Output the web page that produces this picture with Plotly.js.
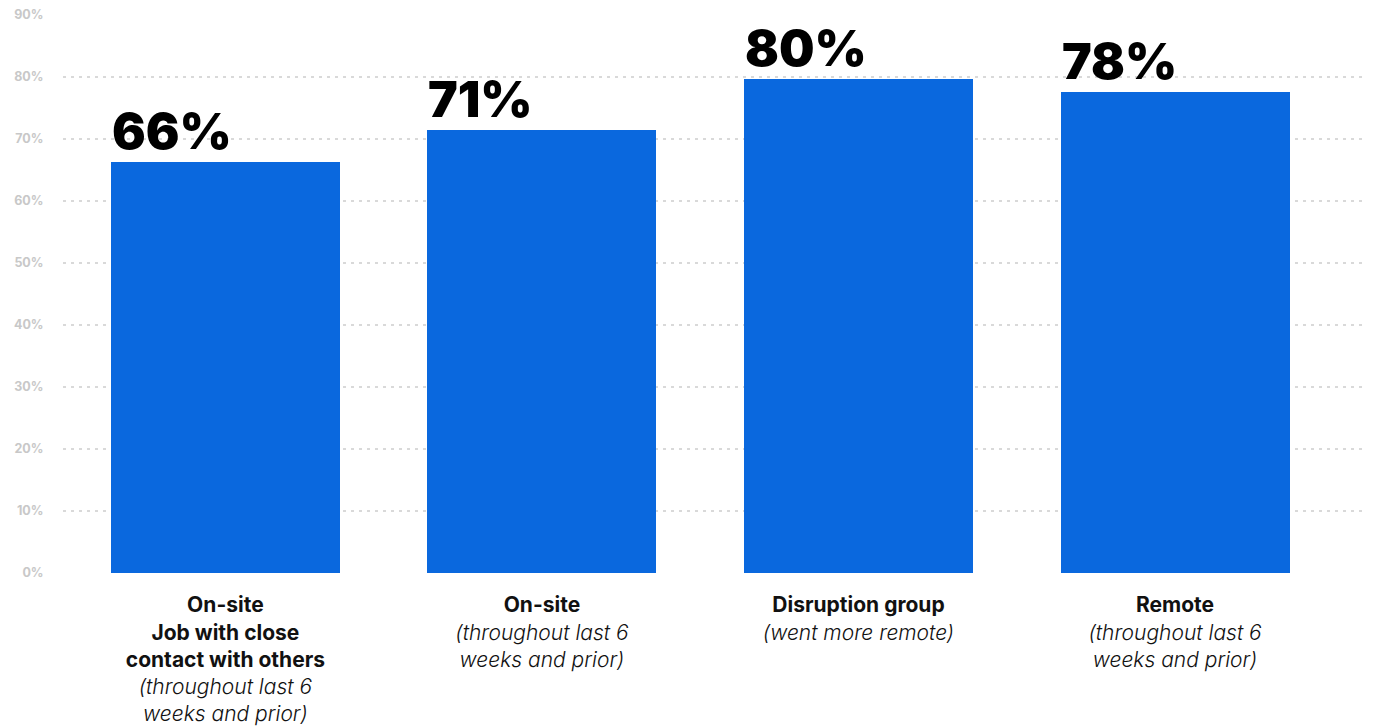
<!DOCTYPE html>
<html>
<head>
<meta charset="utf-8">
<script src="https://cdn.plot.ly/plotly-3.0.1.min.js"></script>
<style>html,body{margin:0;padding:0;background:#fff;}#chart{width:1378px;height:727px;}</style>
</head>
<body>
<div id="chart"></div>
<script>
const categories = ["onsite_close", "onsite", "disruption", "remote"];
const categoryTitles = ["On-site<br>Job with close<br>contact with others", "On-site", "Disruption group", "Remote"];
const categorySubtitles = ["(throughout last 6<br>weeks and prior)", "(throughout last 6<br>weeks and prior)", "(went more remote)", "(throughout last 6<br>weeks and prior)"];
const values = [66.3, 71.5, 79.7, 77.6];
const valueLabels = ["66%", "71%", "80%", "78%"];
const yTickValues = [0, 10, 20, 30, 40, 50, 60, 70, 80, 90];
const yTickLabels = ["0%", "10%", "20%", "30%", "40%", "50%", "60%", "70%", "80%", "90%"];

const barWidth = 0.7235;
const xIdx = categories.map((c, i) => i);
const tickText = categories.map((c, i) =>
  "<b>" + categoryTitles[i].split("<br>").join("</b><br><b>") + "</b><br>" +
  categorySubtitles[i].split("<br>").map(s => "<i><span style=\"font-weight:300\">" + s + "</span></i>").join("<br>")
);

const trace = {
  type: "bar",
  x: xIdx,
  y: values,
  width: barWidth,
  marker: {color: "#0a68de"},
  hoverinfo: "skip"
};

const annotations = xIdx.map((x, i) => ({
  x: x - barWidth / 2,
  y: values[i],
  xref: "x", yref: "y",
  xanchor: "left", yanchor: "bottom",
  text: valueLabels[i],
  showarrow: false,
  yshift: -1,
  xshift: -1,
  font: {family: "Inter, Roboto, sans-serif", size: 50, color: "#000", weight: 900}
}));

const layout = {
  width: 1378, height: 727,
  margin: {l: 63, r: 13, t: 15, b: 154},
  paper_bgcolor: "#fff", plot_bgcolor: "#fff",
  showlegend: false,
  bargap: 0,
  xaxis: {
    range: [-0.513, 3.6],
    tickmode: "array",
    tickvals: xIdx,
    ticktext: tickText,
    showgrid: false, zeroline: false, showline: false,
    ticks: "outside", ticklen: 13, tickcolor: "rgba(0,0,0,0)",
    tickfont: {family: "Inter, Roboto, sans-serif", size: 21, color: "#111"},
    fixedrange: true
  },
  yaxis: {
    range: [0, 90],
    tickmode: "array",
    tickvals: yTickValues,
    ticktext: yTickLabels.map(t => "<b>" + t + "</b>"),
    showgrid: true, gridcolor: "#d9d9d9", gridwidth: 1.5, griddash: "3px,5px",
    zeroline: false, showline: false,
    ticks: "outside", ticklen: 16, tickcolor: "rgba(0,0,0,0)",
    tickfont: {family: "Inter, sans-serif", size: 12.5, color: "#c8c8c8"},
    fixedrange: true
  },
  annotations: annotations
};

Plotly.newPlot("chart", [trace], layout, {displayModeBar: false, staticPlot: true});
</script>
</body>
</html>
